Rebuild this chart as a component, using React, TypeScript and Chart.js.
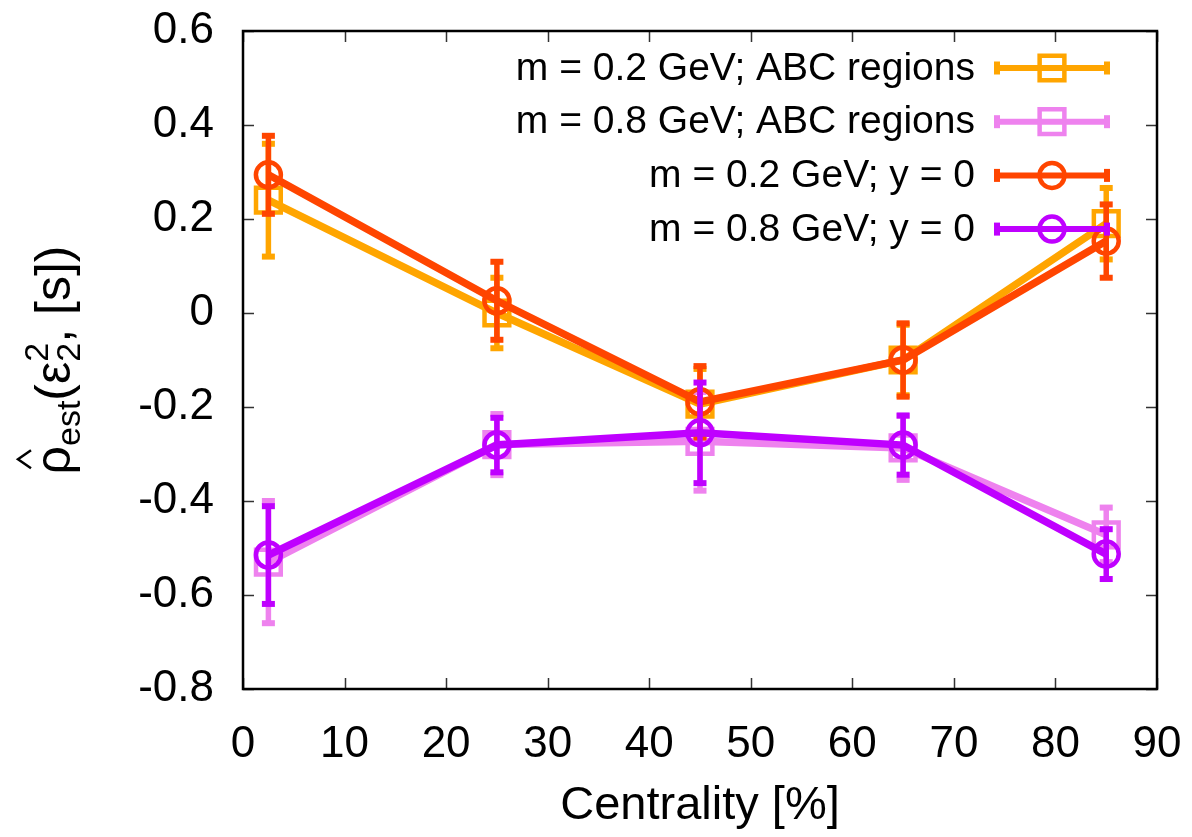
import React, { useEffect, useRef } from "react";
import { Chart, registerables } from "chart.js";

Chart.register(...registerables);

// Centrality bins [%]
const centrality = [2.5, 25, 45, 65, 85];

// Estimated correlation and its uncertainty, one pair of arrays per series
const rhoAbcLow = [0.24, 0.0, -0.194, -0.1, 0.19];
const errAbcLow = [0.12, 0.075, 0.075, 0.075, 0.076];

const rhoAbcHigh = [-0.53, -0.28, -0.273, -0.287, -0.472];
const errAbcHigh = [0.13, 0.065, 0.105, 0.068, 0.058];

const rhoMidLow = [0.294, 0.026, -0.189, -0.1, 0.153];
const errMidLow = [0.083, 0.083, 0.076, 0.078, 0.078];

const rhoMidHigh = [-0.515, -0.281, -0.255, -0.281, -0.513];
const errMidHigh = [0.104, 0.058, 0.107, 0.063, 0.053];

const seriesLabels = [
  "m = 0.2 GeV; ABC regions",
  "m = 0.8 GeV; ABC regions",
  "m = 0.2 GeV; y = 0",
  "m = 0.8 GeV; y = 0",
];
const seriesColors = ["#ffa500", "#ee82ee", "#ff4500", "#bf00ff"];
const seriesMarkers = ["rect", "rect", "circle", "circle"];
const seriesValues = [rhoAbcLow, rhoAbcHigh, rhoMidLow, rhoMidHigh];
const seriesErrors = [errAbcLow, errAbcHigh, errMidLow, errMidHigh];

const xTickValues = [0, 10, 20, 30, 40, 50, 60, 70, 80, 90];
const yTickValues = [-0.8, -0.6, -0.4, -0.2, 0, 0.2, 0.4, 0.6];

const xTitle = "Centrality [%]";

const FONT = "'Liberation Sans', Arial, Helvetica, sans-serif";
const W = 1192;
const H = 837;
const AREA = { left: 243, right: 1157, top: 31, bottom: 689 };

const CIRCLE_R = 12.5;
const RECT_R = 17.5; // Chart.js rect half-side = r * sqrt(1/2)

function markerRadius(style: string) {
  return style === "rect" ? RECT_R : CIRCLE_R;
}

// tick-label overhang is handled by the layout padding instead
function dropLabelOverhang(s: any) {
  s.paddingTop = 0;
  s.paddingBottom = 0;
  s.paddingLeft = 0;
  s.paddingRight = 0;
}

// vertical error bars with flat caps, drawn right under each series
const errorBarPlugin = {
  id: "errorBars",
  beforeDatasetDraw(chart: any, args: any) {
    const idx = args.index;
    const errs = seriesErrors[idx];
    const vals = seriesValues[idx];
    if (!errs) return;
    const { ctx } = chart;
    const xs = chart.scales.x;
    const ys = chart.scales.y;
    ctx.save();
    ctx.strokeStyle = seriesColors[idx];
    ctx.fillStyle = seriesColors[idx];
    ctx.lineWidth = 5.5;
    for (let i = 0; i < vals.length; i++) {
      const px = xs.getPixelForValue(centrality[i]);
      const pTop = ys.getPixelForValue(vals[i] + errs[i]);
      const pBot = ys.getPixelForValue(vals[i] - errs[i]);
      ctx.beginPath();
      ctx.moveTo(px, pTop);
      ctx.lineTo(px, pBot);
      ctx.stroke();
      ctx.fillRect(px - 6.5, pTop - 3, 13, 6);
      ctx.fillRect(px - 6.5, pBot - 3, 13, 6);
    }
    ctx.restore();
  },
};

// frame with inward ticks on all four sides
const framePlugin = {
  id: "frame",
  beforeDatasetsDraw(chart: any) {
    const { ctx, chartArea: a } = chart;
    const xs = chart.scales.x;
    const ys = chart.scales.y;
    ctx.save();
    ctx.strokeStyle = "#333";
    ctx.lineWidth = 1.5;
    const tl = 11;
    ctx.beginPath();
    xTickValues.forEach((v) => {
      const px = Math.round(xs.getPixelForValue(v)) + 0.5;
      ctx.moveTo(px, a.bottom);
      ctx.lineTo(px, a.bottom - tl);
      ctx.moveTo(px, a.top);
      ctx.lineTo(px, a.top + tl);
    });
    yTickValues.forEach((v) => {
      const py = Math.round(ys.getPixelForValue(v)) + 0.5;
      ctx.moveTo(a.left, py);
      ctx.lineTo(a.left + tl, py);
      ctx.moveTo(a.right, py);
      ctx.lineTo(a.right - tl, py);
    });
    ctx.stroke();
    ctx.strokeStyle = "#000";
    ctx.lineWidth = 2.5;
    ctx.strokeRect(a.left, a.top, a.right - a.left, a.bottom - a.top);
    ctx.restore();
  },
};

function drawMarker(ctx: CanvasRenderingContext2D, style: string, x: number, y: number) {
  ctx.beginPath();
  if (style === "rect") {
    const h = RECT_R * Math.SQRT1_2;
    ctx.rect(x - h, y - h, 2 * h, 2 * h);
  } else {
    ctx.arc(x, y, CIRCLE_R, 0, Math.PI * 2);
  }
  ctx.stroke();
}

// key in the upper right: right-aligned text, then a sample with caps and marker
const keyPlugin = {
  id: "key",
  afterDraw(chart: any) {
    const { ctx } = chart;
    const textRight = 975;
    const sampleL = 997;
    const sampleR = 1107;
    const rowTop = 68;
    const rowStep = 53.7;
    ctx.save();
    ctx.font = `39px ${FONT}`;
    ctx.textAlign = "right";
    ctx.textBaseline = "middle";
    seriesLabels.forEach((label, i) => {
      const y = rowTop + i * rowStep;
      ctx.fillStyle = "#000";
      ctx.fillText(label, textRight, y + 1);
      ctx.strokeStyle = seriesColors[i];
      ctx.fillStyle = seriesColors[i];
      ctx.lineWidth = 6;
      ctx.beginPath();
      ctx.moveTo(sampleL, y);
      ctx.lineTo(sampleR, y);
      ctx.stroke();
      ctx.fillRect(sampleL - 3, y - 6.5, 6, 13);
      ctx.fillRect(sampleR - 3, y - 6.5, 6, 13);
      ctx.lineWidth = 4.5;
      drawMarker(ctx, seriesMarkers[i], (sampleL + sampleR) / 2, y);
    });
    ctx.restore();
  },
};

// axis titles, the vertical one built from pieces with sub/superscripts
const titlesPlugin = {
  id: "titles",
  afterDraw(chart: any) {
    const { ctx, chartArea: a } = chart;
    ctx.save();
    ctx.fillStyle = "#000";
    ctx.font = `47px ${FONT}`;
    ctx.textAlign = "center";
    ctx.textBaseline = "middle";
    ctx.fillText(xTitle, (a.left + a.right) / 2, 806);

    const main = `50px ${FONT}`;
    const small = `34px ${FONT}`;
    const pieces: any[] = [
      { t: "\u03c1", f: main, dy: 0, hat: true },
      { t: "est", f: small, dy: 10 },
      { t: "(", f: main, dy: 0 },
      { t: "\u03b5", f: main, dy: 0 },
      { stack: [{ t: "2", f: small, dy: -22 }, { t: "2", f: small, dy: 10 }] },
      { t: ", [s])", f: main, dy: 0 },
    ];
    ctx.textAlign = "left";
    ctx.textBaseline = "alphabetic";
    let total = 0;
    const widths = pieces.map((p) => {
      let w = 0;
      if (p.stack) {
        p.stack.forEach((s: any) => {
          ctx.font = s.f;
          w = Math.max(w, ctx.measureText(s.t).width);
        });
      } else {
        ctx.font = p.f;
        w = ctx.measureText(p.t).width;
      }
      total += w;
      return w;
    });
    const baseX = 70;
    const cy = (a.top + a.bottom) / 2;
    ctx.translate(baseX, cy);
    ctx.rotate(-Math.PI / 2);
    let x = -total / 2;
    pieces.forEach((p, i) => {
      if (p.stack) {
        p.stack.forEach((s: any) => {
          ctx.font = s.f;
          ctx.fillText(s.t, x, s.dy);
        });
      } else {
        ctx.font = p.f;
        ctx.fillText(p.t, x, p.dy);
        if (p.hat) {
          const cx = x + widths[i] / 2 + 1;
          ctx.strokeStyle = "#000";
          ctx.lineWidth = 2.5;
          ctx.beginPath();
          ctx.moveTo(cx - 9, -39);
          ctx.lineTo(cx, -52);
          ctx.lineTo(cx + 9, -39);
          ctx.stroke();
        }
      }
      x += widths[i];
    });
    ctx.restore();
  },
};

export default function App() {
  const canvasRef = useRef<HTMLCanvasElement | null>(null);

  useEffect(() => {
    document.body.style.margin = "0";
    const canvas = canvasRef.current;
    if (!canvas) return;

    const datasets = seriesLabels.map((label, i) => ({
      label,
      data: centrality.map((x, j) => ({ x, y: seriesValues[i][j] })),
      borderColor: seriesColors[i],
      backgroundColor: seriesColors[i],
      borderWidth: 7.5,
      pointStyle: seriesMarkers[i] as any,
      pointRadius: markerRadius(seriesMarkers[i]),
      pointBorderWidth: 4.5,
      pointBorderColor: seriesColors[i],
      pointBackgroundColor: "rgba(0,0,0,0)",
      tension: 0,
      clip: false as any,
      order: seriesLabels.length - i,
    }));

    const chart = new Chart(canvas, {
      type: "line",
      data: { datasets },
      plugins: [framePlugin, errorBarPlugin, keyPlugin, titlesPlugin],
      options: {
        animation: false,
        responsive: false,
        events: [],
        layout: { padding: { left: 0, right: W - AREA.right, top: AREA.top, bottom: 0 } },
        plugins: {
          legend: { display: false },
          tooltip: { enabled: false },
          title: { display: false },
        },
        scales: {
          x: {
            type: "linear",
            min: 0,
            max: 90,
            afterFit: (s: any) => {
              s.height = H - AREA.bottom;
              dropLabelOverhang(s);
            },
            afterBuildTicks: (s: any) => {
              s.ticks = xTickValues.map((v) => ({ value: v }));
            },
            ticks: {
              color: "#000",
              font: { family: FONT, size: 44 },
              padding: 29,
              maxRotation: 0,
              autoSkip: false,
              callback: (v: any) => String(v),
            },
            grid: { display: false, drawTicks: false },
            border: { display: false },
          },
          y: {
            type: "linear",
            min: -0.8,
            max: 0.6,
            afterFit: (s: any) => {
              s.width = AREA.left;
              dropLabelOverhang(s);
            },
            afterBuildTicks: (s: any) => {
              s.ticks = yTickValues.map((v) => ({ value: v }));
            },
            ticks: {
              color: "#000",
              font: { family: FONT, size: 44 },
              padding: 29,
              autoSkip: false,
              callback: (v: any) => String(Number(Number(v).toFixed(1))),
            },
            grid: { display: false, drawTicks: false },
            border: { display: false },
          },
        },
      },
    });

    return () => chart.destroy();
  }, []);

  return (
    <div style={{ width: W, height: H, background: "#fff" }}>
      <canvas ref={canvasRef} width={W} height={H} style={{ display: "block" }} />
    </div>
  );
}
